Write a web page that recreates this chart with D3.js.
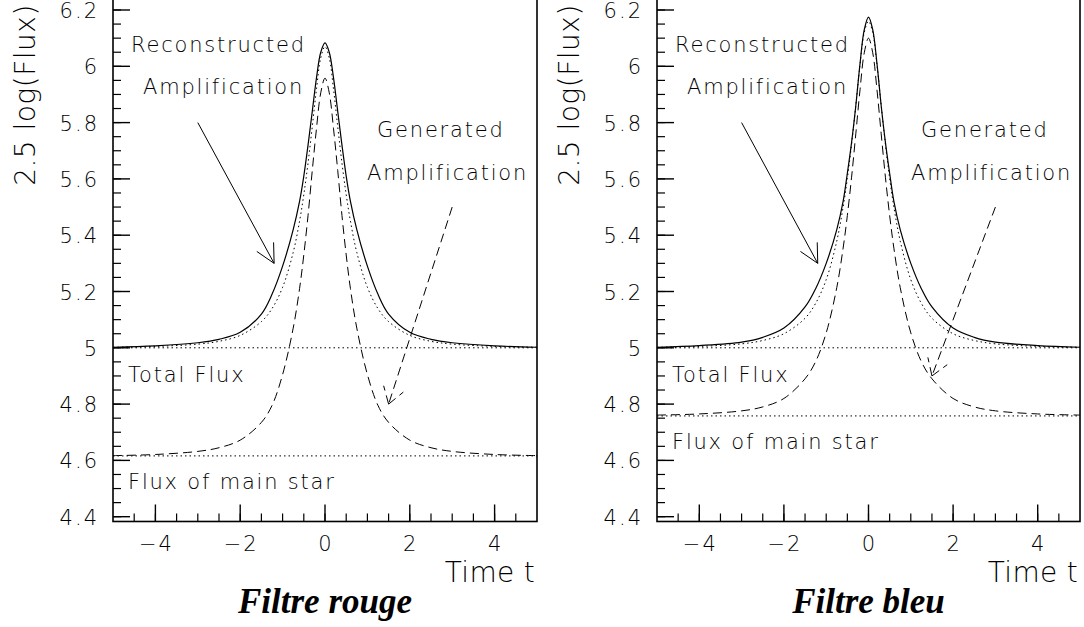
<!DOCTYPE html>
<html>
<head>
<meta charset="utf-8">
<script src="https://cdn.jsdelivr.net/npm/d3@7"></script>
<style>
  body { margin: 0; background: #fff; }
  svg { display: block; }
  .lbl { font-family: 'DejaVu Sans', sans-serif; font-weight: 200; fill: #000; }
  .ttl { font-family: 'Liberation Serif', 'Times New Roman', serif; font-weight: bold; font-style: italic; fill: #000; }
</style>
</head>
<body>
<svg id="chart" width="1084" height="627"></svg>
<script>
// time samples (Einstein-time units) shared by every curve
const TIME = [-5, -4, -3, -2.5, -2, -1.5, -1.25, -1, -0.75, -0.6, -0.5, -0.4, -0.3, -0.2, -0.1, 0,
              0.1, 0.2, 0.3, 0.4, 0.5, 0.6, 0.75, 1, 1.25, 1.5, 2, 2.5, 3, 4, 5];

// Filtre rouge
const ROUGE_RECONSTRUCTED = [5.002, 5.007, 5.018, 5.03, 5.055, 5.12, 5.19, 5.29, 5.42, 5.52, 5.61, 5.72, 5.84, 5.96, 6.05, 6.083,
                             6.05, 5.96, 5.84, 5.72, 5.61, 5.52, 5.42, 5.29, 5.19, 5.12, 5.055, 5.03, 5.018, 5.007, 5.002];
const ROUGE_TOTAL = [5.002, 5.005, 5.013, 5.023, 5.044, 5.093, 5.139, 5.215, 5.339, 5.45, 5.544, 5.656, 5.786, 5.92, 6.03, 6.07,
                     6.03, 5.92, 5.786, 5.656, 5.544, 5.45, 5.339, 5.215, 5.139, 5.093, 5.044, 5.023, 5.013, 5.005, 5.002];
const ROUGE_GENERATED = [4.617, 4.621, 4.632, 4.645, 4.672, 4.735, 4.795, 4.905, 5.07, 5.21, 5.33, 5.47, 5.63, 5.78, 5.906, 5.958,
                         5.906, 5.78, 5.63, 5.47, 5.33, 5.21, 5.07, 4.905, 4.795, 4.735, 4.672, 4.645, 4.632, 4.621, 4.617];
const ROUGE_LEVELS = { total: 5.0, star: 4.616 };

// Filtre bleu
const BLEU_RECONSTRUCTED = [5.002, 5.008, 5.02, 5.037, 5.07, 5.145, 5.21, 5.30, 5.42, 5.52, 5.62, 5.73, 5.86, 6.01, 6.13, 6.175,
                            6.13, 6.01, 5.86, 5.73, 5.62, 5.52, 5.42, 5.30, 5.21, 5.145, 5.07, 5.037, 5.02, 5.008, 5.002];
const BLEU_TOTAL = [5.002, 5.005, 5.014, 5.026, 5.05, 5.105, 5.158, 5.242, 5.379, 5.5, 5.602, 5.723, 5.861, 6.006, 6.12, 6.16,
                    6.12, 6.006, 5.861, 5.723, 5.602, 5.5, 5.379, 5.242, 5.158, 5.105, 5.05, 5.026, 5.014, 5.005, 5.002];
const BLEU_GENERATED = [4.761, 4.765, 4.776, 4.79, 4.82, 4.89, 4.951, 5.053, 5.214, 5.354, 5.47, 5.606, 5.76, 5.917, 6.048, 6.10,
                        6.048, 5.917, 5.76, 5.606, 5.47, 5.354, 5.214, 5.053, 4.951, 4.89, 4.82, 4.79, 4.776, 4.765, 4.761];
const BLEU_LEVELS = { total: 5.0, star: 4.758 };

// axes
const Y_TICKS = [4.4, 4.6, 4.8, 5, 5.2, 5.4, 5.6, 5.8, 6, 6.2];
const Y_TICK_LABELS = ['4.4', '4.6', '4.8', '5', '5.2', '5.4', '5.6', '5.8', '6', '6.2'];
const X_TICKS = [-4, -2, 0, 2, 4];
const X_TICK_LABELS = ['\u22124', '\u22122', '0', '2', '4'];

// arrow anchors, in data units: [from, to]
const RECO_ARROW = [[-3, 5.8], [-1.2, 5.3]];
const GEN_ARROW_ROUGE = [[3, 5.5], [1.5, 4.8]];
const GEN_ARROW_BLEU = [[3, 5.5], [1.5, 4.9]];

const panels = [
  { title: 'Filtre rouge', x0: 113, x1: 537, reco: ROUGE_RECONSTRUCTED, total: ROUGE_TOTAL,
    gen: ROUGE_GENERATED, levels: ROUGE_LEVELS, genArrow: GEN_ARROW_ROUGE },
  { title: 'Filtre bleu', x0: 657, x1: 1080, reco: BLEU_RECONSTRUCTED, total: BLEU_TOTAL,
    gen: BLEU_GENERATED, levels: BLEU_LEVELS, genArrow: GEN_ARROW_BLEU },
];

const svg = d3.select('#chart');

// 6.2 sits at y=10, 4.4 at y=516.7
const y = d3.scaleLinear().domain([4.4, 6.2]).range([516.7, 10]);
const Y_MIN = 4.383, Y_MAX = 6.26;

const DASH = '9,5';
const DOT = '1.5,3';

function arrow(g, from, to, len, half, dash) {
  const [ax, ay] = from, [bx, by] = to;
  const ang = Math.atan2(ay - by, ax - bx);
  g.append('line').attr('x1', ax).attr('y1', ay).attr('x2', bx).attr('y2', by)
    .attr('stroke', '#000').attr('stroke-width', 1).attr('stroke-dasharray', dash);
  [-half, half].forEach(h => {
    const a = ang + h * Math.PI / 180;
    g.append('line').attr('x1', bx).attr('y1', by)
      .attr('x2', bx + len * Math.cos(a)).attr('y2', by + len * Math.sin(a))
      .attr('stroke', '#000').attr('stroke-width', 1).attr('stroke-dasharray', dash);
  });
}

panels.forEach(p => {
  const x = d3.scaleLinear().domain([-5, 5]).range([p.x0, p.x1]);
  const g = svg.append('g');
  const yb = y(Y_MIN), yt = y(Y_MAX);

  const line = vals => d3.line()
    .x((d, i) => x(TIME[i])).y(d => y(d))
    .curve(d3.curveCatmullRom.alpha(0.5))(vals);

  // horizontal reference levels
  [p.levels.total, p.levels.star].forEach(v => {
    g.append('line').attr('x1', p.x0).attr('x2', p.x1).attr('y1', y(v)).attr('y2', y(v))
      .attr('stroke', '#000').attr('stroke-width', 1).attr('stroke-dasharray', DOT);
  });

  g.append('path').attr('d', line(p.gen)).attr('fill', 'none')
    .attr('stroke', '#000').attr('stroke-width', 1).attr('stroke-dasharray', DASH);
  g.append('path').attr('d', line(p.total)).attr('fill', 'none')
    .attr('stroke', '#000').attr('stroke-width', 1).attr('stroke-dasharray', DOT);
  g.append('path').attr('d', line(p.reco)).attr('fill', 'none')
    .attr('stroke', '#000').attr('stroke-width', 1.2);

  // frame
  g.append('rect').attr('x', p.x0).attr('y', yt).attr('width', p.x1 - p.x0).attr('height', yb - yt)
    .attr('fill', 'none').attr('stroke', '#000').attr('stroke-width', 1.6);

  // y ticks (inside, pointing right)
  const yMinor = d3.range(4.4, 6.2501, 0.05);
  g.selectAll(null).data(yMinor).join('line')
    .attr('x1', p.x0).attr('x2', p.x0 + 8)
    .attr('y1', d => y(d)).attr('y2', d => y(d))
    .attr('stroke', '#000').attr('stroke-width', 1.2);
  g.selectAll(null).data(Y_TICKS).join('line')
    .attr('x1', p.x0).attr('x2', p.x0 + 17)
    .attr('y1', d => y(d)).attr('y2', d => y(d))
    .attr('stroke', '#000').attr('stroke-width', 1.4);
  g.selectAll(null).data(Y_TICKS).join('text')
    .attr('class', 'lbl')
    .attr('x', p.x0 - 14).attr('y', d => y(d) + 8)
    .attr('text-anchor', 'end').attr('font-size', 21).attr('letter-spacing', 2)
    .text((d, i) => Y_TICK_LABELS[i]);

  // x ticks (inside, pointing up)
  const xMinor = d3.range(-4.5, 5, 0.5);
  g.selectAll(null).data(xMinor).join('line')
    .attr('x1', d => x(d)).attr('x2', d => x(d))
    .attr('y1', yb).attr('y2', yb - 8)
    .attr('stroke', '#000').attr('stroke-width', 1.2);
  g.selectAll(null).data(X_TICKS).join('line')
    .attr('x1', d => x(d)).attr('x2', d => x(d))
    .attr('y1', yb).attr('y2', yb - 17)
    .attr('stroke', '#000').attr('stroke-width', 1.4);
  g.selectAll(null).data(X_TICKS).join('text')
    .attr('class', 'lbl')
    .attr('x', d => x(d) + 1).attr('y', 551)
    .attr('text-anchor', 'middle').attr('font-size', 21).attr('letter-spacing', 2)
    .text((d, i) => X_TICK_LABELS[i]);

  // axis titles
  g.append('text').attr('class', 'lbl')
    .attr('x', p.x1 - 2).attr('y', 582)
    .attr('text-anchor', 'end').attr('font-size', 28).attr('letter-spacing', 0.3)
    .text('Time t');
  g.append('text').attr('class', 'lbl')
    .attr('transform', `translate(${p.x0 - 78},95) rotate(-90)`)
    .attr('text-anchor', 'middle').attr('font-size', 28).attr('letter-spacing', 0.5)
    .text('2.5 log(Flux)');

  // annotations
  const ann = [
    ['Reconstructed', 18, 52],
    ['Amplification', 30, 94],
    ['Generated', 264, 137],
    ['Amplification', 254, 180],
    ['Total Flux', 15, 382],
    ['Flux of main star', 15, y(p.levels.star) + 33],
  ];
  g.selectAll(null).data(ann).join('text')
    .attr('class', 'lbl')
    .attr('x', d => p.x0 + d[1]).attr('y', d => d[2])
    .attr('font-size', 21).attr('letter-spacing', 1.8)
    .text(d => d[0]);

  const px = pt => [x(pt[0]), y(pt[1])];
  arrow(g, px(RECO_ARROW[0]), px(RECO_ARROW[1]), 21, 27, null);
  arrow(g, px(p.genArrow[0]), px(p.genArrow[1]), 19, 33, DASH);

  // panel caption
  g.append('text').attr('class', 'ttl')
    .attr('x', (p.x0 + p.x1) / 2).attr('y', 613)
    .attr('text-anchor', 'middle').attr('font-size', 35)
    .text(p.title);
});
</script>
</body>
</html>
